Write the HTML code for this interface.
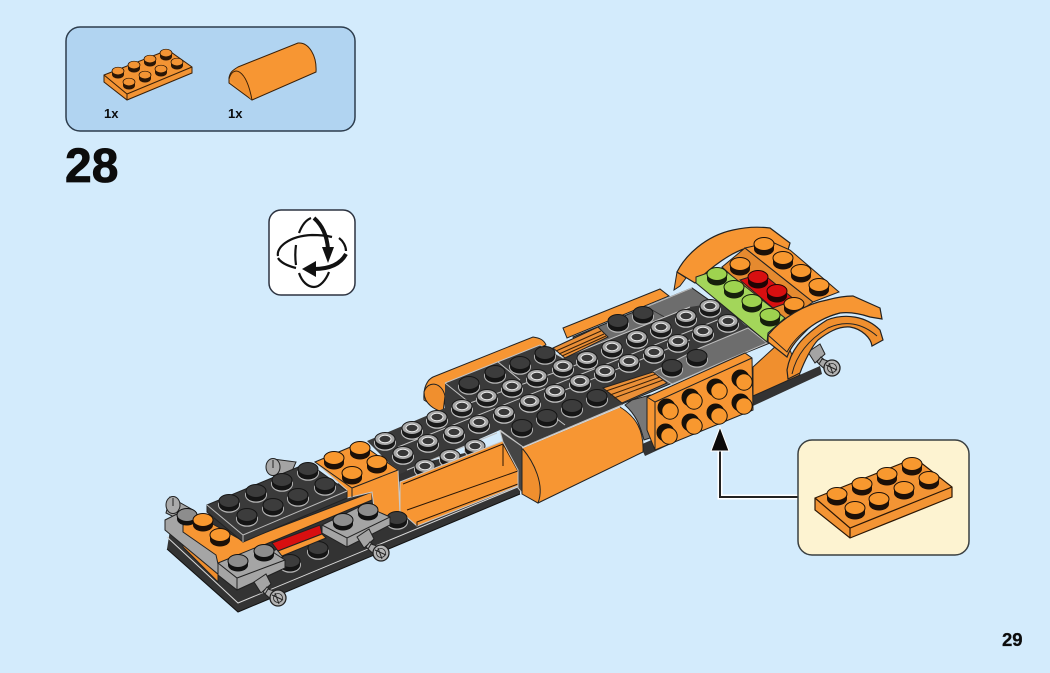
<!DOCTYPE html>
<html><head><meta charset="utf-8"><style>
html,body{margin:0;padding:0;background:#d3ebfc;width:1050px;height:673px;overflow:hidden}
svg{display:block;filter:blur(.35px)}
text{font-family:"Liberation Sans",sans-serif;font-weight:bold;fill:#0c0c0c}
</style></head><body>
<svg width="1050" height="673" viewBox="0 0 1050 673" xmlns="http://www.w3.org/2000/svg">
<defs>
<g id="sd"><ellipse cy="2" rx="11" ry="7.8" fill="#b5b5b5"/><path d="M-10 -2v4a10 6.5 0 0 0 20 0v-4z" fill="#151515"/><ellipse cy="-2" rx="10" ry="6.5" fill="#3c3c3c" stroke="#151515"/></g>
<g id="hd"><ellipse cy="2" rx="11" ry="7.8" fill="#c4c4c4"/><path d="M-10 -2v4a10 6.5 0 0 0 20 0v-4z" fill="#1a1a1a"/><ellipse cy="-2" rx="10" ry="6.5" fill="#a8a8a8" stroke="#1a1a1a"/><ellipse cy="-2" rx="6" ry="3.7" fill="#383838" stroke="#ececec"/></g>
<g id="sg"><path d="M-10 -2v4a10 6.5 0 0 0 20 0v-4z" fill="#111"/><ellipse cy="-2" rx="10" ry="6.5" fill="#8d8d8d" stroke="#111"/></g>
<g id="so"><path d="M-10 -3v5a10 6.5 0 0 0 20 0v-5z" fill="#1c1008"/><ellipse cy="-3" rx="10" ry="6.5" fill="#f8982f" stroke="#1c1008"/></g>
<g id="sl"><path d="M-10 -3v5a10 6.5 0 0 0 20 0v-5z" fill="#16200c"/><ellipse cy="-3" rx="10" ry="6.5" fill="#9ed34f" stroke="#16200c"/></g>
<g id="sr"><path d="M-10 -3v5a10 6.5 0 0 0 20 0v-5z" fill="#200404"/><ellipse cy="-3" rx="10" ry="6.5" fill="#d80f10" stroke="#200404"/></g>
<g id="sm"><path d="M-6 -2v3.5a6 4 0 0 0 12 0v-3.5z" fill="#2a1606"/><ellipse cy="-2" rx="6" ry="3.8" fill="#f39434" stroke="#2a1606" stroke-width=".7"/></g>
<g id="sf"><circle cx="-2.5" cy="-2.5" r="9" fill="#15100a"/><circle cx="1" cy="1" r="8.2" fill="#f8982f" stroke="#15100a"/></g>
<g id="pin"><path d="M-24 -16L-12 -24 -7 -14 -17 -5z" fill="#a4a4a4" stroke="#222"/><path d="M-11 -11L-4 -5 -8 0 -15 -6z" fill="#b0b0b0" stroke="#222"/><path d="M-10 -9L-1 -6 -5 3 -13 -4z" fill="#a8a8a8" stroke="#222"/><circle r="8" fill="#b4b4b4" stroke="#222" stroke-width="1.3"/><circle r="4.5" fill="none" stroke="#222" stroke-width=".8"/><path d="M-6 -3l11 5M-3 -5l4 11" stroke="#222" fill="none"/></g>
</defs>

<!-- parts panel -->
<rect x="66" y="27" width="289" height="104" rx="14" fill="#b1d4f1" stroke="#2d3d4d" stroke-width="1.5"/>
<path d="M104 75L168 50 192 67V73L127 100 104 82z" fill="#f39434" stroke="#3a2008"/>
<path d="M104 75L127 94 192 67M127 94v6" fill="none" stroke="#3a2008"/>
<use href="#sm" x="118" y="73"/><use href="#sm" x="134" y="67"/><use href="#sm" x="150" y="61"/><use href="#sm" x="166" y="55"/><use href="#sm" x="129" y="84"/><use href="#sm" x="145" y="77"/><use href="#sm" x="161" y="71"/><use href="#sm" x="177" y="64"/>
<path d="M229 78C230 72 233 70 238 67L298 43C309 42 317 56 316 72L252 100 229 83z" fill="#f79633" stroke="#3a2008"/>
<path d="M229 79C233 65 246 68 252 100" fill="#f08f2e" stroke="#3a2008"/>
<text x="104" y="118" font-size="13">1x</text>
<text x="228" y="118" font-size="13">1x</text>
<text x="65" y="182" font-size="48" stroke="#0c0c0c" stroke-width=".8">28</text>

<!-- rotate icon -->
<rect x="269" y="210" width="86" height="85" rx="12" fill="#fff" stroke="#2d3340" stroke-width="1.5"/>
<g fill="none" stroke="#111" stroke-width="2.2">
<path d="M299 233C302 225 306 220 311 218"/>
<path d="M296 245C295 252 295 258 296 265"/>
<path d="M299 273C302 282 308 287 314 287 320 287 326 280 329 272"/>
<path d="M278 256C276 248 288 236 312 235 322 235 328 236 332 237"/>
<path d="M278 258C281 263 288 266 296 268"/>
<path d="M339 238C343 241 346 246 346 251"/>
</g>
<path d="M314 218C323 226 327 236 328 249" fill="none" stroke="#111" stroke-width="4"/>
<path d="M322 247H334L328 263z" fill="#111"/>
<path d="M346 254C340 265 328 269 314 269" fill="none" stroke="#111" stroke-width="4"/>
<path d="M316 261V277L302 269z" fill="#111"/>

<!-- back pins -->
<path d="M273 459L296 462 290 476 273 475z" fill="#a4a4a4" stroke="#222"/><ellipse cx="273" cy="467" rx="7" ry="8.5" fill="#aaa" stroke="#222"/><path d="M273 460v8" stroke="#222"/>
<path d="M170 497L193 510 186 523 166 513z" fill="#a4a4a4" stroke="#222"/><ellipse cx="173" cy="505" rx="7" ry="8.5" fill="#aaa" stroke="#222"/><path d="M173 498v8" stroke="#222"/>
<use href="#pin" x="832" y="368"/>

<!-- base -->
<path d="M170 530L350 480 520 440 520 494 238 612 167 549z" fill="#333"/>
<path d="M167 537L238 603 520 486" fill="none" stroke="#d8d8d8" stroke-width="1"/>
<path d="M167 549L238 612 520 494" fill="none" stroke="#111"/>
<path d="M640 445L820 366 822 374 645 456z" fill="#333"/>

<!-- back thin orange, back cylinder -->
<path d="M563 328L660 289 669 296 567 338z" fill="#f79633" stroke="#222"/>
<path d="M433 377L533 337C540 338 544 340 546 345L447 390 443 412 424 400C423 388 427 380 433 377z" fill="#f79633" stroke="#222"/>
<path d="M424 392C428 380 442 382 445 396L443 412C435 410 424 404 424 392z" fill="#f08f2e" stroke="#222"/>

<!-- grey underlay -->
<path d="M573 337L692 288 770 343 718 364 622 404 590 380z" fill="#6d6d6d" stroke="#222"/>
<path d="M646 307L692 288" stroke="#bbb" fill="none"/>
<path d="M647 307L680 326" stroke="#333" fill="none"/>

<!-- dark slab -->
<path d="M367 441L445 408 445 383 540 345 563 358 690 307 722 302 748 328 700 350 622 405 523 447 500 430 400 474z" fill="#3a3a3a"/>
<path d="M445 383L540 345 563 358 690 307M445 383L470 403M498 362L520 380M545 410L565 425M523 447L622 405M500 430L523 447M398 447L730 315M407 470L497 433M470 403L590 360M565 390L690 340" fill="none" stroke="#c4c4c4" stroke-width="1"/>
<path d="M700 348L748 328 767 343 718 364 672 384 653 372z" fill="#6d6d6d" stroke="#bbb"/>

<!-- grilles -->
<path d="M553 348L598 327 608 337 565 358z" fill="#ea8f37" stroke="#222"/>
<path d="M556 351L601 331M559 354L604 334M562 356L606 336" stroke="#3a2008" fill="none"/>
<path d="M603 388L653 372 667 383 622 403z" fill="#ea8f37" stroke="#222"/>
<path d="M606 391L656 374M610 395L660 377M614 398L663 380" stroke="#3a2008" fill="none"/>

<!-- studs -->
<use href="#sd" x="618" y="323"/><use href="#sd" x="643" y="315"/>
<use href="#hd" x="587" y="360"/><use href="#hd" x="612" y="349"/><use href="#hd" x="637" y="339"/><use href="#hd" x="661" y="329"/><use href="#hd" x="686" y="318"/><use href="#hd" x="710" y="308"/>
<use href="#hd" x="563" y="368"/><use href="#hd" x="537" y="378"/><use href="#hd" x="512" y="388"/><use href="#hd" x="487" y="398"/><use href="#hd" x="462" y="408"/><use href="#hd" x="437" y="419"/><use href="#hd" x="412" y="430"/><use href="#hd" x="385" y="441"/>
<use href="#hd" x="629" y="363"/><use href="#hd" x="654" y="354"/><use href="#hd" x="678" y="343"/><use href="#hd" x="703" y="333"/><use href="#hd" x="728" y="323"/>
<use href="#hd" x="605" y="373"/><use href="#hd" x="580" y="383"/><use href="#hd" x="555" y="393"/><use href="#hd" x="530" y="403"/><use href="#hd" x="504" y="414"/><use href="#hd" x="479" y="424"/><use href="#hd" x="454" y="434"/><use href="#hd" x="428" y="443"/><use href="#hd" x="403" y="455"/>
<use href="#hd" x="475" y="448"/><use href="#hd" x="450" y="458"/><use href="#hd" x="425" y="468"/>
<use href="#sd" x="469" y="385"/><use href="#sd" x="495" y="374"/><use href="#sd" x="520" y="365"/><use href="#sd" x="545" y="355"/>
<use href="#sd" x="597" y="398"/><use href="#sd" x="572" y="408"/><use href="#sd" x="547" y="418"/><use href="#sd" x="522" y="428"/>
<use href="#sd" x="672" y="368"/><use href="#sd" x="697" y="358"/>

<!-- trough -->
<path d="M400 482L503 441 520 472 520 485 417 526 400 511z" fill="#f79633" stroke="#c9c9c9"/>
<path d="M403 484L503 444 518 471 407 510M417 526V522L518 484M503 444V466" fill="none" stroke="#2a1606"/>
<path d="M500 431L523 447 523 494 518 488 518 470 503 442z" fill="#454545" stroke="#c4c4c4"/>

<!-- rear orange + dark plate -->
<path d="M183 547L218 582V562L183 530z" fill="#ef8d2c" stroke="#222"/>
<path d="M165 520L185 510 215 528 218 556 236 566 285 546 285 568 237 590 165 530z" fill="#a5a5a5" stroke="#222"/>
<path d="M183 525L200 517 243 541 372 492 372 500 218 564 216 555 183 532z" fill="#f79633" stroke="#222"/>
<path d="M315 462L360 443 398 470 400 515 376 522 372 492 347 498V490z" fill="#f79633" stroke="#c9c9c9"/>
<path d="M315 462L360 443 398 470 352 488zM352 488V497" fill="#f79633" stroke="#222"/>
<path d="M207 505L308 463 347 491V498L243 542 207 512z" fill="#3a3a3a" stroke="#222"/>
<path d="M207 505L243 535 347 491M243 535v7" fill="none" stroke="#bbb"/>
<use href="#sd" x="229" y="503"/><use href="#sd" x="256" y="493"/><use href="#sd" x="282" y="482"/><use href="#sd" x="308" y="471"/>
<use href="#sd" x="247" y="517"/><use href="#sd" x="273" y="507"/><use href="#sd" x="298" y="497"/><use href="#sd" x="325" y="486"/>
<use href="#so" x="334" y="461"/><use href="#so" x="360" y="451"/><use href="#so" x="377" y="465"/><use href="#so" x="352" y="476"/>
<use href="#sg" x="187" y="517"/><use href="#so" x="203" y="523"/><use href="#so" x="220" y="538"/>
<use href="#sd" x="290" y="563"/><use href="#sd" x="318" y="550"/><use href="#sd" x="397" y="520"/>
<path d="M272 543L320 525 322 534 278 551z" fill="#d80f10" stroke="#222"/>
<path d="M278 551L322 534 326 538 282 556z" fill="#f79633" stroke="#222"/>

<!-- front cylinder -->
<path d="M522 448L620 407C636 417 644 430 643 452L538 503 522 493z" fill="#f79633" stroke="#222"/>
<path d="M522 448C534 462 545 485 538 503L522 494 522 480z" fill="#f08f2e" stroke="#222"/>
<path d="M522 448L620 407" stroke="#ddd" fill="none"/>

<!-- clips -->
<path d="M218 563L262 545 285 560V568L237 590 218 575z" fill="#a5a5a5" stroke="#222"/>
<path d="M218 563L237 578 285 560M237 578v12" fill="none" stroke="#222"/>
<use href="#sg" x="238" y="563"/><use href="#sg" x="264" y="553"/>
<use href="#pin" x="278" y="598"/>
<path d="M322 525L363 505 390 517V525L347 547 322 533z" fill="#a5a5a5" stroke="#222"/>
<path d="M322 525L347 538 390 517M347 538v9" fill="none" stroke="#222"/>
<use href="#sg" x="343" y="522"/><use href="#sg" x="368" y="512"/>
<use href="#pin" x="381" y="553"/>

<!-- grey gap near front -->
<path d="M632 400L650 395V438L644 440C640 425 636 415 625 405z" fill="#777" stroke="#222"/>

<!-- front body -->
<path d="M753 367L777 345 790 350 800 375 753 396z" fill="#f08f2e" stroke="#222"/>

<!-- front brick -->
<path d="M647 397L745 353 752 358 753 410 655 450 647 430z" fill="#f79633" stroke="#222"/>
<path d="M647 397L655 402 752 358M655 402V450" fill="none" stroke="#222"/>
<use href="#sf" x="669" y="410"/><use href="#sf" x="693" y="400"/><use href="#sf" x="718" y="390"/><use href="#sf" x="743" y="381"/>
<use href="#sf" x="668" y="435"/><use href="#sf" x="693" y="425"/><use href="#sf" x="718" y="415"/><use href="#sf" x="743" y="405"/>

<!-- rear fender and top plates -->
<path d="M677 272L674 290 680 286 686 278z" fill="#f08f2e" stroke="#222"/>
<path d="M677 272C685 256 705 236 733 230 750 226 762 227 770 228L790 243 788 250 772 242 747 248C732 252 712 266 695 283z" fill="#f79633" stroke="#222" stroke-width="1.2"/>
<path d="M722 267L745 248 813 302 783 323z" fill="#e58a2f" stroke="#222"/>
<path d="M745 248L772 242 790 250 839 292 813 302z" fill="#f79633" stroke="#222"/>
<path d="M740 280L762 273 795 300 773 308z" fill="#d80f10" stroke="#222"/>
<path d="M696 277L722 268 785 318 768 333 767 342 696 283z" fill="#a3d65a" stroke="#222"/>
<use href="#so" x="764" y="247"/><use href="#so" x="783" y="261"/><use href="#so" x="801" y="274"/><use href="#so" x="819" y="288"/>
<use href="#so" x="740" y="267"/><use href="#so" x="794" y="307"/>
<use href="#sr" x="758" y="280"/><use href="#sr" x="777" y="294"/>
<use href="#sl" x="717" y="277"/><use href="#sl" x="734" y="290"/><use href="#sl" x="752" y="304"/><use href="#sl" x="770" y="318"/>

<!-- front fender -->
<path d="M787 370C790 352 800 337 827 320 845 313 866 316 880 330L883 340 872 346C871 338 862 329 850 327 838 326 827 333 818 340 812 346 804 362 800 373L788 379z" fill="#f08f2e" stroke="#222" stroke-width="1.2"/>
<path d="M792 374C796 356 808 340 828 328 845 320 862 323 877 336" fill="none" stroke="#222"/>
<path d="M768 335C782 318 805 304 827 300 838 297 848 296 853 296L880 308 882 319 870 317C858 313 848 312 840 313 828 316 813 323 805 332 798 339 791 346 787 357L768 342z" fill="#f79633" stroke="#222" stroke-width="1.2"/>
<path d="M768 335L787 352C797 333 820 318 840 313" fill="none" stroke="#222"/>

<!-- callout -->
<path d="M798 497H720V448" fill="none" stroke="#fff" stroke-width="5"/>
<path d="M798 497H720V448" fill="none" stroke="#222" stroke-width="2"/>
<path d="M720 427L729 451H711z" fill="#0a0a0a" stroke="#fff" stroke-width="1"/>
<rect x="798" y="440" width="171" height="115" rx="14" fill="#fdf3d1" stroke="#3a3f40" stroke-width="1.5"/>
<path d="M815 498L915 458 952 487V497L850 538 815 510z" fill="#f39434" stroke="#2a1606" stroke-width="1.2"/>
<path d="M815 498L850 528 952 487M850 528V538" fill="none" stroke="#2a1606" stroke-width="1.2"/>
<use href="#so" x="837" y="497"/><use href="#so" x="862" y="487"/><use href="#so" x="887" y="477"/><use href="#so" x="912" y="467"/>
<use href="#so" x="855" y="511"/><use href="#so" x="879" y="502"/><use href="#so" x="904" y="491"/><use href="#so" x="929" y="481"/>

<text x="1002" y="646" font-size="18.5" stroke="#0c0c0c" stroke-width=".3">29</text>
</svg>
</body></html>
